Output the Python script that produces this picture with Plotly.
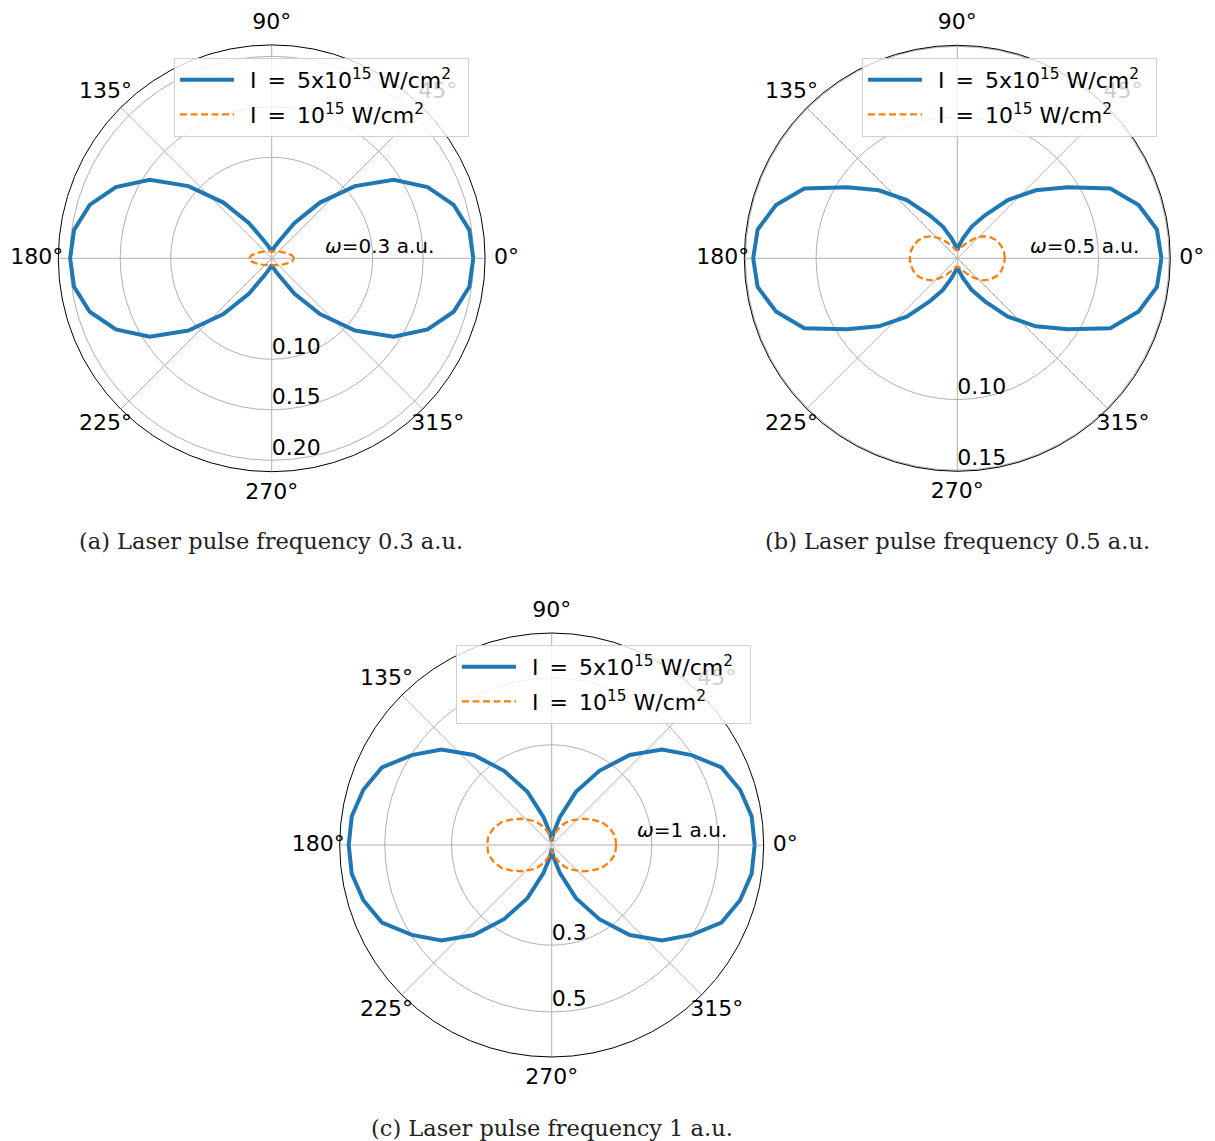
import plotly.graph_objects as go

# angles of the computed points (44 steps around the circle)
theta = [i * 360 / 44 for i in range(45)]

angle_ticks = [0, 45, 90, 135, 180, 225, 270, 315]
angle_labels = ["0°", "45°", "90°", "135°", "180°", "225°", "270°", "315°"]

legend_names = ["\u2002I\u2002=\u20025x10<sup>15</sup> W/cm<sup>2</sup>\u2002",
                "\u2002I\u2002=\u200210<sup>15</sup> W/cm<sup>2</sup>"]

# (a) omega = 0.3 a.u.
a_strong = [0.1996, 0.1977, 0.1878, 0.1697, 0.1436, 0.1091, 0.0730, 0.0414, 0.0200, 0.0130, 0.0090, 0.0066,
            0.0090, 0.0130, 0.0200, 0.0414, 0.0730, 0.1091, 0.1436, 0.1697, 0.1878, 0.1977, 0.1996,
            0.1977, 0.1878, 0.1697, 0.1436, 0.1091, 0.0730, 0.0414, 0.0200, 0.0130, 0.0090, 0.0066,
            0.0090, 0.0130, 0.0200, 0.0414, 0.0730, 0.1091, 0.1436, 0.1697, 0.1878, 0.1977, 0.1996]
a_weak = [0.0223, 0.0204, 0.0168, 0.0138, 0.0116, 0.0100, 0.0089, 0.0081, 0.0075, 0.0072, 0.0070, 0.0069,
          0.0070, 0.0072, 0.0075, 0.0081, 0.0089, 0.0100, 0.0116, 0.0138, 0.0168, 0.0204, 0.0223,
          0.0204, 0.0168, 0.0138, 0.0116, 0.0100, 0.0089, 0.0081, 0.0075, 0.0072, 0.0070, 0.0069,
          0.0070, 0.0072, 0.0075, 0.0081, 0.0089, 0.0100, 0.0116, 0.0138, 0.0168, 0.0204, 0.0223]
a_rticks = [0.10, 0.15, 0.20]
a_rlabels = ["0.10", "0.15", "0.20"]

# (b) omega = 0.5 a.u.
b_strong = [0.1445, 0.1428, 0.1338, 0.1191, 0.0929, 0.0735, 0.0546, 0.0362, 0.0247, 0.0149, 0.0092, 0.0057,
            0.0092, 0.0149, 0.0247, 0.0362, 0.0546, 0.0735, 0.0929, 0.1191, 0.1338, 0.1428, 0.1445,
            0.1428, 0.1338, 0.1191, 0.0929, 0.0735, 0.0546, 0.0362, 0.0247, 0.0149, 0.0092, 0.0057,
            0.0092, 0.0149, 0.0247, 0.0362, 0.0546, 0.0735, 0.0929, 0.1191, 0.1338, 0.1428, 0.1445]
b_weak = [0.0337, 0.0333, 0.0323, 0.0305, 0.0277, 0.0238, 0.0184, 0.0135, 0.0096, 0.0074, 0.0064, 0.0060,
          0.0064, 0.0074, 0.0096, 0.0135, 0.0184, 0.0238, 0.0277, 0.0305, 0.0323, 0.0333, 0.0337,
          0.0333, 0.0323, 0.0305, 0.0277, 0.0238, 0.0184, 0.0135, 0.0096, 0.0074, 0.0064, 0.0060,
          0.0064, 0.0074, 0.0096, 0.0135, 0.0184, 0.0238, 0.0277, 0.0305, 0.0323, 0.0333, 0.0337]
b_rticks = [0.10, 0.15]
b_rlabels = ["0.10", "0.15"]

# (c) omega = 1 a.u.
c_strong = [0.608, 0.605, 0.588, 0.559, 0.498, 0.437, 0.357, 0.264, 0.175, 0.088, 0.036, 0.012,
            0.036, 0.088, 0.175, 0.264, 0.357, 0.437, 0.498, 0.559, 0.588, 0.605, 0.608,
            0.605, 0.588, 0.559, 0.498, 0.437, 0.357, 0.264, 0.175, 0.088, 0.036, 0.012,
            0.036, 0.088, 0.175, 0.264, 0.357, 0.437, 0.498, 0.559, 0.588, 0.605, 0.608]
c_weak = [0.193, 0.192, 0.181, 0.165, 0.142, 0.120, 0.099, 0.081, 0.060, 0.039, 0.024, 0.015,
          0.024, 0.039, 0.060, 0.081, 0.099, 0.120, 0.142, 0.165, 0.181, 0.192, 0.193,
          0.192, 0.181, 0.165, 0.142, 0.120, 0.099, 0.081, 0.060, 0.039, 0.024, 0.015,
          0.024, 0.039, 0.060, 0.081, 0.099, 0.120, 0.142, 0.165, 0.181, 0.192, 0.193]
c_rticks = [0.3, 0.5]
c_rlabels = ["0.3", "0.5"]

# the page body has an 8px margin, so the figure is a bit smaller than the window
OFF = 8
W, H = 1215 - OFF, 1141 - OFF
LABEL_GAP = 21.5  # angle labels are centred this far outside the rim

panels = [
    dict(polar="polar", ring="polar4", legend="legend", strong=a_strong, weak=a_weak,
         rticks=a_rticks, rlabels=a_rlabels, rmax=0.2113, cx=271.7, cy=258.3, R=213.4, leg=(174, 58),
         omega="0.3", om=(323, 246), caption="(a) Laser pulse frequency 0.3 a.u.", cap=(271, 541)),
    dict(polar="polar2", ring="polar5", legend="legend2", strong=b_strong, weak=b_weak,
         rticks=b_rticks, rlabels=b_rlabels, rmax=0.1508, cx=957.3, cy=258.3, R=213, leg=(862, 58),
         omega="0.5", om=(1028, 246), caption="(b) Laser pulse frequency 0.5 a.u.", cap=(957, 541)),
    dict(polar="polar3", ring="polar6", legend="legend3", strong=c_strong, weak=c_weak,
         rticks=c_rticks, rlabels=c_rlabels, rmax=0.635, cx=551.7, cy=845, R=212, leg=(456, 645),
         omega="1", om=(635, 830), caption="(c) Laser pulse frequency 1 a.u.", cap=(552, 1128)),
]


def domain(cx, cy, r):
    return dict(x=[(cx - r) / W, (cx + r) / W], y=[1 - (cy + r) / H, 1 - (cy - r) / H])


fig = go.Figure()
layout = {}
annotations = []

for p in panels:
    fig.add_trace(go.Scatterpolar(r=p["strong"], theta=theta, mode="lines", subplot=p["polar"],
                                  legend=p["legend"], legendgroup=p["polar"] + "s", name=legend_names[0],
                                  line=dict(color="#1f77b4", width=4)))
    fig.add_trace(go.Scatterpolar(r=p["weak"], theta=theta, mode="lines", subplot=p["polar"],
                                  legend=p["legend"], legendgroup=p["polar"] + "w", name=legend_names[1],
                                  line=dict(color="#ff7f0e", width=2.3, dash="7px,3.5px")))
    # radial tick labels placed just above each circle along the 270 deg spoke
    fig.add_trace(go.Scatterpolar(r=p["rticks"], theta=[270] * len(p["rticks"]), mode="text",
                                  text=p["rlabels"], textposition="top right", subplot=p["polar"],
                                  showlegend=False, hoverinfo="skip",
                                  textfont=dict(family="DejaVu Sans", size=22, color="black")))
    # angle labels: a hidden, slightly larger polar with the same centre holds them at its rim
    fig.add_trace(go.Scatterpolar(r=[1] * len(angle_ticks), theta=angle_ticks, mode="text",
                                  text=angle_labels, textposition="middle center", subplot=p["ring"],
                                  cliponaxis=False, showlegend=False, hoverinfo="skip",
                                  textfont=dict(family="DejaVu Sans", size=22, color="black")))

    cx, cy = p["cx"] - OFF, p["cy"] - OFF
    layout[p["polar"]] = dict(
        domain=domain(cx, cy, p["R"]),
        bgcolor="white",
        radialaxis=dict(range=[0, p["rmax"]], tickvals=p["rticks"], showticklabels=False,
                        ticks="", showline=False, gridcolor="#b0b0b0", gridwidth=0.8),
        angularaxis=dict(tickvals=angle_ticks, showticklabels=False, direction="counterclockwise",
                         rotation=0, ticks="", gridcolor="#b0b0b0", gridwidth=0.8,
                         linecolor="black", linewidth=1),
    )
    layout[p["ring"]] = dict(
        domain=domain(cx, cy, p["R"] + LABEL_GAP),
        bgcolor="rgba(0,0,0,0)",
        radialaxis=dict(range=[0, 1], visible=False),
        angularaxis=dict(visible=False, direction="counterclockwise", rotation=0),
    )
    layout[p["legend"]] = dict(
        x=(p["leg"][0] - OFF) / W, y=1 - (p["leg"][1] - OFF) / H, xanchor="left", yanchor="top",
        bgcolor="rgba(255,255,255,0.8)", bordercolor="#d0d0d0", borderwidth=1,
        font=dict(family="DejaVu Sans", size=22, color="black"), itemwidth=54,
        tracegroupgap=3, traceorder="grouped",
    )
    annotations.append(dict(x=(p["om"][0] - OFF) / W, y=1 - (p["om"][1] - OFF) / H,
                            xref="paper", yref="paper", xanchor="left", yanchor="middle", showarrow=False,
                            text="<i>ω</i>=" + p["omega"] + " a.u.",
                            font=dict(family="DejaVu Sans", size=20, color="black")))
    annotations.append(dict(x=(p["cap"][0] - OFF) / W, y=1 - (p["cap"][1] - OFF) / H,
                            xref="paper", yref="paper", xanchor="center", yanchor="middle", showarrow=False,
                            text=p["caption"],
                            font=dict(family="DejaVu Serif", size=22.5, color="#222222")))

fig.update_layout(**layout)
fig.update_layout(width=W, height=H, margin=dict(l=0, r=0, t=0, b=0),
                  paper_bgcolor="white", plot_bgcolor="white",
                  annotations=annotations, showlegend=True)

fig.write_html("out.html")
